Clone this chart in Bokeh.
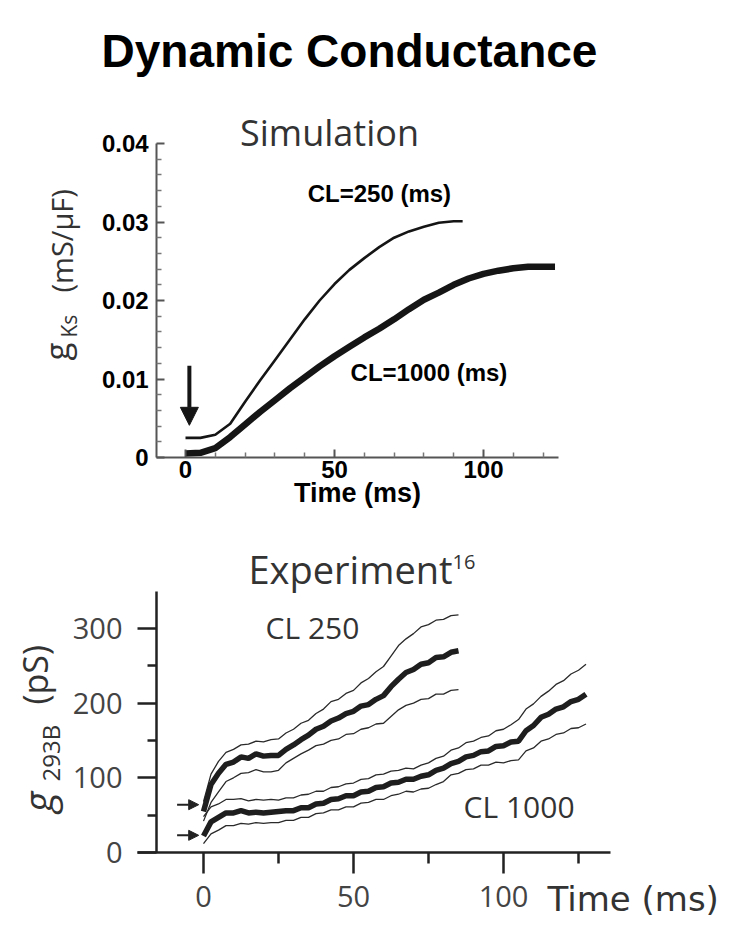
import numpy as np
from math import pi
from bokeh.plotting import figure
from bokeh.layouts import column
from bokeh.models import FixedTicker, Label, Arrow, NormalHead
from bokeh.embed import file_html
from bokeh.resources import INLINE

# ---------------- Simulation data (g_Ks, mS/uF) ----------------
sim_t_250 = [0, 5, 10, 15, 20, 25, 30, 35, 40, 45, 50, 55, 60, 65, 70, 75, 80, 85, 90, 93]
sim_g_250 = [0.0025, 0.0025, 0.0029, 0.0043, 0.0071, 0.0098, 0.0124, 0.0150, 0.0176, 0.0200,
             0.0221, 0.0239, 0.0254, 0.0268, 0.0280, 0.0288, 0.0294, 0.0299, 0.0301, 0.0301]
sim_t_1000 = [0, 5, 10, 15, 20, 25, 30, 35, 40, 45, 50, 55, 60, 65, 70, 75, 80, 85, 90, 95,
              100, 105, 110, 115, 120, 124]
sim_g_1000 = [0.0005, 0.0006, 0.0012, 0.0026, 0.0042, 0.0058, 0.0073, 0.0088, 0.0102, 0.0116,
              0.0129, 0.0141, 0.0153, 0.0164, 0.0176, 0.0189, 0.0201, 0.0210, 0.0220, 0.0228,
              0.0234, 0.0238, 0.0241, 0.0243, 0.0243, 0.0243]
sim_yticks = [0, 0.01, 0.02, 0.03, 0.04]
sim_ylabels = ["0", "0.01", "0.02", "0.03", "0.04"]
sim_xticks = [0, 50, 100]
sim_arrow = dict(x=1.3, y_from=0.0117, y_to=0.0041)

# ---------------- Experiment data (g_293B, pS) ----------------
exp_t_250 = list(np.arange(0, 85.1, 2.5))
exp_250_mean = [55, 91, 106, 118, 121, 128, 126, 132, 129, 130, 130, 138, 144, 151, 157, 165, 169, 176,
                180, 186, 189, 196, 198, 205, 210, 222, 232, 241, 245, 252, 254, 261, 262, 268, 270]
exp_250_upper = [68, 105, 122, 134, 138, 144, 145, 149, 148, 151, 152, 160, 165, 173, 177, 186, 192, 202,
                 205, 213, 217, 227, 233, 242, 249, 263, 277, 286, 293, 302, 305, 311, 312, 317, 318]
exp_250_lower = [42, 67, 81, 95, 100, 106, 107, 111, 108, 108, 110, 120, 126, 132, 137, 143, 145, 150,
                 152, 158, 159, 165, 167, 172, 173, 182, 191, 197, 200, 205, 206, 212, 212, 217, 218]
exp_t_1000 = list(np.arange(0, 127.6, 2.5))
exp_1000_mean = [22, 41, 47, 53, 53, 56, 53, 54, 53, 54, 55, 56, 56, 60, 60, 65, 66, 71, 72, 76,
                 76, 81, 82, 87, 88, 93, 94, 98, 98, 102, 104, 110, 113, 119, 122, 128, 130, 135,
                 136, 142, 143, 148, 149, 163, 170, 181, 185, 192, 195, 202, 205, 212]
exp_1000_upper = [48, 61, 65, 71, 71, 72, 69, 71, 70, 71, 70, 73, 73, 77, 78, 82, 82, 87, 88, 92,
                  93, 98, 99, 104, 105, 109, 110, 113, 112, 117, 120, 126, 129, 137, 140, 147, 149,
                  154, 156, 163, 165, 171, 178, 192, 199, 209, 216, 225, 230, 239, 244, 252]
exp_1000_lower = [12, 25, 30, 36, 36, 39, 38, 40, 39, 40, 40, 43, 43, 47, 47, 52, 53, 57, 57, 61,
                  61, 66, 67, 71, 71, 76, 78, 82, 81, 85, 86, 91, 95, 104, 106, 111, 112, 117, 117,
                  121, 120, 123, 124, 136, 140, 149, 152, 158, 160, 166, 167, 172]
exp_yticks = [0, 100, 200, 300]
exp_xticks = [0, 50, 100]
exp_arrow_levels = [64, 23]

INK = "#151515"
W = 750
K_BASE = 0.35   # baseline correction (fraction of font size)

# ---- page geometry (page pixels; the Bokeh page has no body margin) ----
TOP_Y0, TOP_H = 0, 530
BOT_Y0, BOT_H = 530, 405


def span(px_lo, px_hi, px_at_zero, px_per_unit):
    return ((px_lo - px_at_zero) / px_per_unit, (px_hi - px_at_zero) / px_per_unit)


# top: t=0 at page x 185, 2.98 px/ms ; g=0 at page y 457, 7850 px per mS/uF
top_xr = span(0, W, 185, 2.98)
top_yr = tuple(sorted(span(TOP_Y0 + TOP_H, TOP_Y0, 457, -7850)))
# bottom: t=0 at page x 203, 3 px/ms ; g=0 at page y 852, 0.747 px/pS
bot_xr = span(0, W, 203, 3.0)
bot_yr = tuple(sorted(span(BOT_Y0 + BOT_H, BOT_Y0, 852, -0.747)))


def scr(page_x, page_y, fig_y0, fig_h):
    return dict(x=page_x, y=fig_h - (page_y - fig_y0), x_units="screen", y_units="screen")


def T(page_x, page_y):
    return scr(page_x, page_y, TOP_Y0, TOP_H)


def B(page_x, page_y):
    return scr(page_x, page_y, BOT_Y0, BOT_H)


def txt(pos, text, size, font="Open Sans", style="normal", color="#333333", align="left", rotated=False):
    off = K_BASE * size
    extra = dict(angle=pi / 2, x_offset=-off) if rotated else dict(y_offset=off)
    return Label(**pos, text=text, text_align=align, text_baseline="alphabetic", text_font=font,
                 text_font_style=style, text_font_size=f"{size}px", text_color=color, **extra)


def make_fig(h, xr, yr):
    p = figure(width=W, height=h, x_range=xr, y_range=yr, output_backend="svg",
               toolbar_location=None, min_border=0)
    p.outline_line_color = None
    p.xgrid.visible = False
    p.ygrid.visible = False
    p.background_fill_color = "white"
    p.border_fill_color = "white"
    return p


# =============== Top: Simulation ===============
top = make_fig(TOP_H, top_xr, top_yr)
top.line(sim_t_250, sim_g_250, line_color=INK, line_width=2.6)
top.line(sim_t_1000, sim_g_1000, line_color=INK, line_width=6.5)

for ax in (top.xaxis[0], top.yaxis[0]):
    ax.axis_line_color = "#555555"
    ax.axis_line_width = 2
    ax.major_tick_line_color = "#555555"
    ax.minor_tick_line_color = "#777777"
    ax.major_tick_line_width = 2
    ax.minor_tick_line_width = 1.5
    ax.major_tick_in = 8
    ax.major_tick_out = 0
    ax.minor_tick_in = 5
    ax.minor_tick_out = 0
    ax.major_label_text_font = "Liberation Sans"
    ax.major_label_text_font_style = "bold"
    ax.major_label_text_font_size = "24px"
    ax.major_label_text_color = "black"

top.xaxis[0].fixed_location = 0
top.xaxis[0].bounds = (-9.7, 125.2)
top.xaxis[0].ticker = FixedTicker(ticks=sim_xticks,
                                  minor_ticks=[10, 20, 30, 40, 60, 70, 80, 90, 110, 120])
top.xaxis[0].major_label_standoff = 3
top.yaxis[0].fixed_location = -9.7
top.yaxis[0].bounds = (0, 0.04)
top.yaxis[0].ticker = FixedTicker(ticks=sim_yticks,
                                  minor_ticks=[0.002, 0.004, 0.006, 0.008, 0.012, 0.014, 0.016, 0.018,
                                               0.022, 0.024, 0.026, 0.028, 0.032, 0.034, 0.036, 0.038])
top.yaxis[0].major_label_overrides = {k: v for k, v in zip(sim_yticks, sim_ylabels)}
top.yaxis[0].major_label_standoff = 8

top.add_layout(txt(T(349, 67), "Dynamic Conductance", 46, font="Liberation Sans", style="bold",
                   color="black", align="center"))
top.add_layout(txt(T(329, 145), "Simulation", 36, align="center"))
top.add_layout(txt(T(357, 502), "Time (ms)", 27, font="Liberation Sans", style="bold",
                   color="black", align="center"))
# y label: g_Ks (mS/uF), rotated
top.add_layout(txt(T(68, 360), "g", 33, rotated=True))
top.add_layout(txt(T(76, 337), "Ks", 21, rotated=True))
top.add_layout(txt(T(71, 292), "(mS/\u03bcF)", 29, rotated=True))
top.add_layout(txt(dict(x=41, y=0.0325), "CL=250 (ms)", 24, font="Liberation Sans", style="bold",
                   color="black"))
top.add_layout(txt(dict(x=55.4, y=0.0097), "CL=1000 (ms)", 24, font="Liberation Sans", style="bold",
                   color="black"))
top.add_layout(Arrow(end=NormalHead(size=18, fill_color=INK, line_color=INK),
                     x_start=sim_arrow["x"], y_start=sim_arrow["y_from"],
                     x_end=sim_arrow["x"], y_end=sim_arrow["y_to"],
                     line_color=INK, line_width=4))

# =============== Bottom: Experiment ===============
bot = make_fig(BOT_H, bot_xr, bot_yr)

THIN = "#2a2a2a"
for t, ys in ((exp_t_250, exp_250_upper), (exp_t_250, exp_250_lower),
              (exp_t_1000, exp_1000_upper), (exp_t_1000, exp_1000_lower)):
    bot.line(t, ys, line_color=THIN, line_width=1.3)
bot.line(exp_t_250, exp_250_mean, line_color="#1e1e1e", line_width=5.5)
bot.line(exp_t_1000, exp_1000_mean, line_color="#1e1e1e", line_width=5.5)

for ax in (bot.xaxis[0], bot.yaxis[0]):
    ax.axis_line_color = "#222222"
    ax.axis_line_width = 2.5
    ax.major_tick_line_color = "#222222"
    ax.minor_tick_line_color = "#222222"
    ax.major_tick_line_width = 2.5
    ax.minor_tick_line_width = 2.5
    ax.major_tick_in = 0
    ax.minor_tick_in = 0
    ax.major_label_text_font = "Open Sans"
    ax.major_label_text_font_size = "29px"
    ax.major_label_text_color = "#444444"

bot.xaxis[0].fixed_location = 0
bot.xaxis[0].bounds = (-22, 135.67)
bot.xaxis[0].ticker = FixedTicker(ticks=exp_xticks, minor_ticks=[25, 75, 125])
bot.xaxis[0].major_tick_out = 21
bot.xaxis[0].minor_tick_out = 11
bot.xaxis[0].major_label_standoff = 12
bot.yaxis[0].fixed_location = -15.67
bot.yaxis[0].bounds = (0, 350)
bot.yaxis[0].ticker = FixedTicker(ticks=exp_yticks, minor_ticks=[50, 150, 250])
bot.yaxis[0].major_tick_out = 19
bot.yaxis[0].minor_tick_out = 9
bot.yaxis[0].major_label_standoff = 15

bot.add_layout(txt(B(248, 582), "Experiment", 38))
bot.add_layout(txt(B(452, 568), "16", 20))
bot.add_layout(txt(B(547, 910), "Time (ms)", 34, font="DejaVu Sans"))
bot.add_layout(txt(dict(x=20.7, y=286.5), "CL 250", 30))
bot.add_layout(txt(dict(x=86.7, y=47), "CL 1000", 30))
# y label: g_293B (pS), rotated
bot.add_layout(txt(B(51, 812), "g", 40, style="italic", rotated=True))
bot.add_layout(txt(B(58, 781), "293B", 24, rotated=True))
bot.add_layout(txt(B(46, 704), "(pS)", 34, rotated=True))
for lvl in exp_arrow_levels:
    bot.add_layout(Arrow(end=NormalHead(size=10, fill_color="#222222", line_color="#222222"),
                         x_start=-8.8, y_start=lvl, x_end=-1.6, y_end=lvl,
                         line_color="#222222", line_width=2))

layout = column(top, bot, spacing=0)
open("out.html", "w").write(file_html(layout, INLINE))
